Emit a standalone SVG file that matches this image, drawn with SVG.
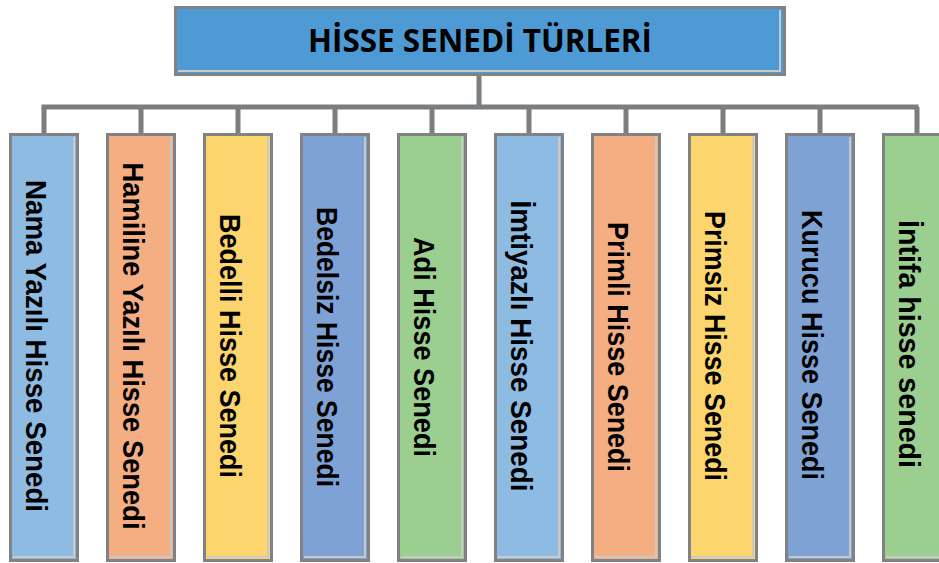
<svg xmlns="http://www.w3.org/2000/svg" width="939" height="563" viewBox="0 0 939 563">
<style>
.conn{stroke:#7b7e81;stroke-width:5;fill:none}
.outer{stroke:#808284;stroke-width:3}
.inner{fill:none;stroke:#c9c9c9;stroke-width:2}
.lbl{font-family:"Liberation Sans",Arial,sans-serif;font-weight:bold;font-size:29px;fill:#000;text-anchor:middle}
.title{font-family:"Open Sans","Liberation Sans",sans-serif;font-weight:bold;font-size:32px;fill:#000;text-anchor:middle}
.c1{fill:#8dbbe2}.c2{fill:#f5ad82}.c3{fill:#fcd56e}.c4{fill:#7fa2d5}.c5{fill:#9bcf8f}
</style>
<rect width="939" height="563" fill="#fff"/>
<g id="connectors">
<path class="conn" d="M479 75V107M41.5 107H918.5"/>
<path class="conn" d="M44 107V133M141 107V133M238 107V133M335 107V133M432 107V133M529 107V133M626 107V133M723 107V133M820 107V133M917 107V133"/>
</g>
<g id="title">
<rect x="175.5" y="7.5" width="609" height="67" fill="#4d9ad4" class="outer"/>
<path class="inner" d="M780 10V71H178"/>
<text class="title" x="480" y="52" textLength="344" lengthAdjust="spacingAndGlyphs">HİSSE SENEDİ TÜRLERİ</text>
</g>
<g id="n1"><rect class="outer c1" x="10.5" y="134.5" width="67" height="426"/><path class="inner" d="M74 137V557H13"/><text class="lbl" transform="translate(44,346) rotate(90)" y="18" textLength="332" lengthAdjust="spacingAndGlyphs">Nama Yazılı Hisse Senedi</text></g>
<g id="n2"><rect class="outer c2" x="107.5" y="134.5" width="67" height="426"/><path class="inner" d="M171 137V557H110"/><text class="lbl" transform="translate(141,346) rotate(90)" y="18" textLength="367" lengthAdjust="spacingAndGlyphs">Hamiline Yazılı Hisse Senedi</text></g>
<g id="n3"><rect class="outer c3" x="204.5" y="134.5" width="67" height="426"/><path class="inner" d="M268 137V557H207"/><text class="lbl" transform="translate(238,346) rotate(90)" y="18" textLength="264" lengthAdjust="spacingAndGlyphs">Bedelli Hisse Senedi</text></g>
<g id="n4"><rect class="outer c4" x="301.5" y="134.5" width="67" height="426"/><path class="inner" d="M365 137V557H304"/><text class="lbl" transform="translate(335,347) rotate(90)" y="18" textLength="280" lengthAdjust="spacingAndGlyphs">Bedelsiz Hisse Senedi</text></g>
<g id="n5"><rect class="outer c5" x="398.5" y="134.5" width="67" height="426"/><path class="inner" d="M462 137V557H401"/><text class="lbl" transform="translate(432,347) rotate(90)" y="18" textLength="220" lengthAdjust="spacingAndGlyphs">Adi Hisse Senedi</text></g>
<g id="n6"><rect class="outer c1" x="495.5" y="134.5" width="67" height="426"/><path class="inner" d="M559 137V557H498"/><text class="lbl" transform="translate(529,346) rotate(90)" y="18" textLength="291" lengthAdjust="spacingAndGlyphs">İmtiyazlı Hisse Senedi</text></g>
<g id="n7"><rect class="outer c2" x="592.5" y="134.5" width="67" height="426"/><path class="inner" d="M656 137V557H595"/><text class="lbl" transform="translate(626,347) rotate(90)" y="18" textLength="250" lengthAdjust="spacingAndGlyphs">Primli Hisse Senedi</text></g>
<g id="n8"><rect class="outer c3" x="689.5" y="134.5" width="67" height="426"/><path class="inner" d="M753 137V557H692"/><text class="lbl" transform="translate(723,346) rotate(90)" y="18" textLength="270" lengthAdjust="spacingAndGlyphs">Primsiz Hisse Senedi</text></g>
<g id="n9"><rect class="outer c4" x="786.5" y="134.5" width="67" height="426"/><path class="inner" d="M850 137V557H789"/><text class="lbl" transform="translate(820,345) rotate(90)" y="18" textLength="270" lengthAdjust="spacingAndGlyphs">Kurucu Hisse Senedi</text></g>
<g id="n10"><rect class="outer c5" x="883.5" y="134.5" width="67" height="426"/><path class="inner" d="M947 137V557H886"/><text class="lbl" transform="translate(917,344) rotate(90)" y="18" textLength="248" lengthAdjust="spacingAndGlyphs">İntifa hisse senedi</text></g>
</svg>
